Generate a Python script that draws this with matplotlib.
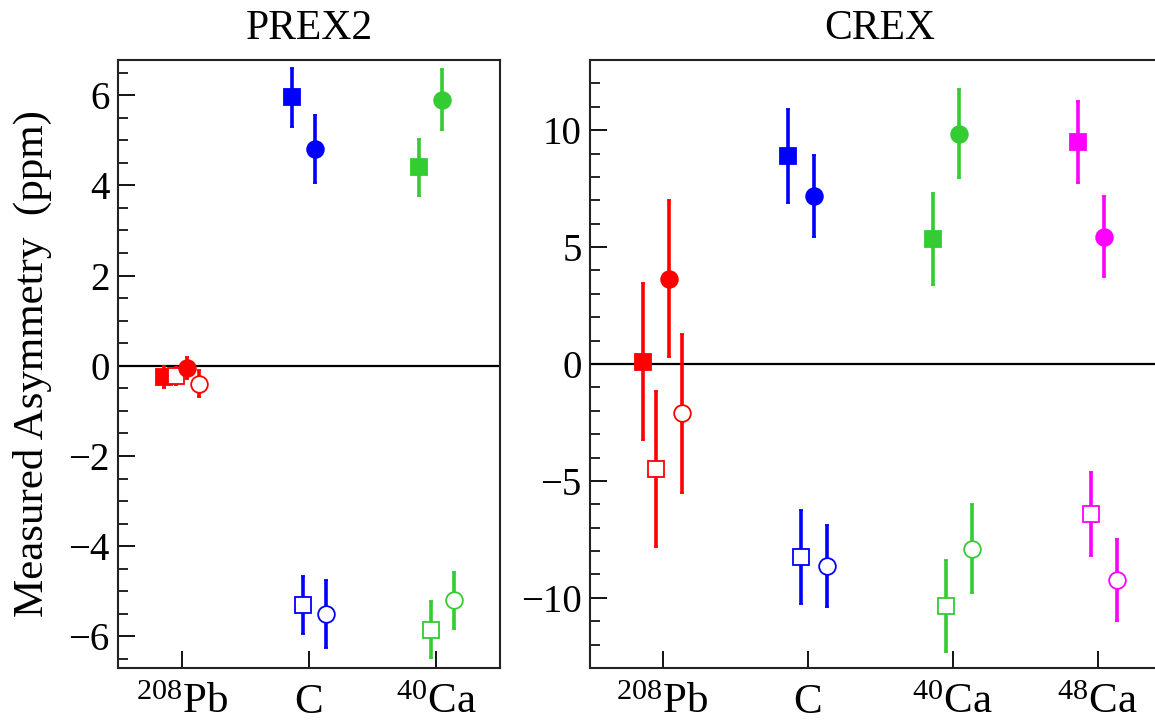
import matplotlib
matplotlib.use("Agg")
import matplotlib.pyplot as plt
import numpy as np
from matplotlib.ticker import MultipleLocator

plt.rcParams.update({
    "font.family": ["Liberation Serif", "DejaVu Serif"],
    "mathtext.fontset": "custom",
    "mathtext.rm": "Liberation Serif",
    "mathtext.it": "Liberation Serif:italic",
    "axes.unicode_minus": True,
})

# ── data ──────────────────────────────────────────────────────────────────────
PREX_TARGETS = ["$^{208}$Pb", "C", "$^{40}$Ca"]
CREX_TARGETS = ["$^{208}$Pb", "C", "$^{40}$Ca", "$^{48}$Ca"]
PREX_COLORS = ["#ff0000", "#0000ff", "#33cc33"]
CREX_COLORS = ["#ff0000", "#0000ff", "#33cc33", "#ff00ff"]

# four measurements per target: filled square, open square, filled circle, open circle
prex_fsq = [-0.25, 5.95, 4.40]
prex_fsq_err = [0.25, 0.65, 0.63]
prex_osq = [-0.22, -5.30, -5.85]
prex_osq_err = [0.20, 0.65, 0.63]
prex_fci = [-0.05, 4.80, 5.90]
prex_fci_err = [0.25, 0.75, 0.67]
prex_oci = [-0.40, -5.50, -5.20]
prex_oci_err = [0.30, 0.75, 0.63]

crex_fsq = [0.10, 8.90, 5.35, 9.50]
crex_fsq_err = [3.35, 2.00, 1.97, 1.75]
crex_osq = [-4.50, -8.25, -10.35, -6.40]
crex_osq_err = [3.33, 2.00, 1.97, 1.80]
crex_fci = [3.65, 7.20, 9.85, 5.45]
crex_fci_err = [3.35, 1.75, 1.90, 1.75]
crex_oci = [-2.10, -8.65, -7.90, -9.25]
crex_oci_err = [3.40, 1.75, 1.90, 1.75]

# marker style / x-offset per measurement
SERIES = [("s", True, -0.135), ("s", False, -0.045), ("o", True, 0.045), ("o", False, 0.135)]


def draw_panel(ax, targets, colors, series, title, ylim, major, minor):
    pos = np.arange(1, len(targets) + 1)
    for (mk, filled, dx), (vals, errs) in zip(SERIES, series):
        for x, v, e, c in zip(pos, vals, errs, colors):
            ax.errorbar(x + dx, v, yerr=e, fmt=mk, color=c, ecolor=c,
                        elinewidth=2.6, capsize=1.5, capthick=2.6,
                        markersize=11 if mk == "s" else 12,
                        markerfacecolor=c if filled else "white",
                        markeredgecolor=c, markeredgewidth=1.3, zorder=3)
    ax.axhline(0, color="black", lw=1.6, zorder=2)
    ax.set_xlim(0.5, len(targets) + 0.5)
    ax.set_ylim(*ylim)
    ax.set_xticks(pos)
    ax.set_xticklabels(targets, fontsize=31)
    ax.yaxis.set_major_locator(MultipleLocator(major))
    ax.yaxis.set_minor_locator(MultipleLocator(minor))
    ax.tick_params(axis="y", which="major", direction="in", length=12, width=1.3,
                   labelsize=28, right=False, pad=6)
    ax.tick_params(axis="y", which="minor", direction="in", length=7, width=1.2, right=False)
    ax.tick_params(axis="x", which="major", direction="in", length=12, width=1.3,
                   top=False, pad=11)
    for s in ax.spines.values():
        s.set_linewidth(1.5)
        s.set_color("#222222")
    ax.set_title(title, fontsize=30, pad=15)


fig = plt.figure(figsize=(11.55, 7.24), dpi=100)
ax1 = fig.add_axes([118 / 1155, 56 / 724, 382 / 1155, 608 / 724])
ax2 = fig.add_axes([590 / 1155, 56 / 724, 580 / 1155, 608 / 724])

draw_panel(ax1, PREX_TARGETS, PREX_COLORS,
           [(prex_fsq, prex_fsq_err), (prex_osq, prex_osq_err),
            (prex_fci, prex_fci_err), (prex_oci, prex_oci_err)],
           "PREX2", (-6.7, 6.78), 2, 0.5)
draw_panel(ax2, CREX_TARGETS, CREX_COLORS,
           [(crex_fsq, crex_fsq_err), (crex_osq, crex_osq_err),
            (crex_fci, crex_fci_err), (crex_oci, crex_oci_err)],
           "CREX", (-13.0, 13.0), 5, 1)

ax1.set_ylabel("Measured Asymmetry  (ppm)", fontsize=31, labelpad=12)

fig.savefig("out.png", dpi=100)
